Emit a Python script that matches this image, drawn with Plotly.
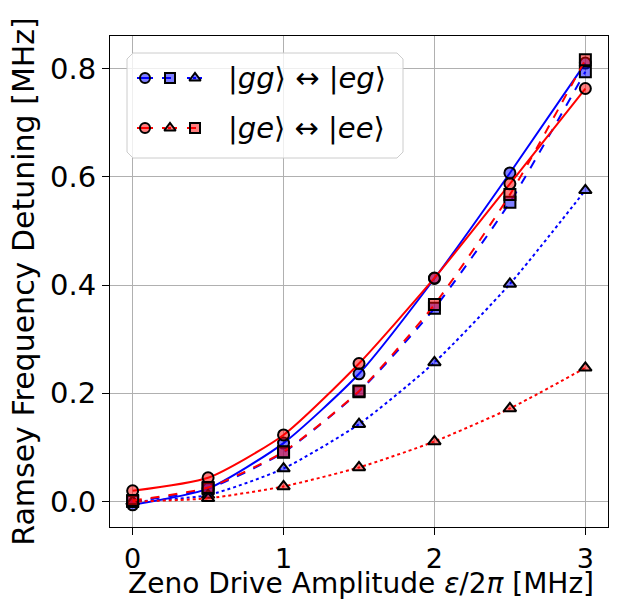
import plotly.graph_objects as go

x = [0, 0.5, 1, 1.5, 2, 2.5, 3]

# |gg> <-> |eg>  (blue)
blue_circle = [-0.006, 0.024, 0.108, 0.236, 0.412, 0.607, 0.810]
blue_square = [0.000, 0.024, 0.091, 0.203, 0.357, 0.553, 0.794]
blue_triangle = [0.000, 0.012, 0.061, 0.143, 0.257, 0.402, 0.575]
# |ge> <-> |ee>  (red)
red_circle = [0.020, 0.044, 0.123, 0.255, 0.413, 0.587, 0.763]
red_triangle = [0.000, 0.006, 0.028, 0.063, 0.111, 0.172, 0.247]
red_square = [0.002, 0.026, 0.092, 0.204, 0.364, 0.567, 0.816]

xticks = [0, 1, 2, 3]
yticks = [0.0, 0.2, 0.4, 0.6, 0.8]

BLUE = "#0000ff"
RED = "#ff0000"
BLUE_FACE = "rgba(0,0,255,0.5)"
RED_FACE = "rgba(255,0,0,0.5)"
FONT = "DejaVu Sans"

series = [
    (blue_circle, BLUE, BLUE_FACE, "circle", "solid"),
    (blue_square, BLUE, BLUE_FACE, "square", "dash"),
    (blue_triangle, BLUE, BLUE_FACE, "triangle-up", "dot"),
    (red_circle, RED, RED_FACE, "circle", "solid"),
    (red_triangle, RED, RED_FACE, "triangle-up", "dot"),
    (red_square, RED, RED_FACE, "square", "dash"),
]

fig = go.Figure()
for ys, col, face, sym, dash in series:
    fig.add_trace(go.Scatter(
        x=x, y=ys, mode="lines+markers",
        line=dict(color=col, width=2, dash=dash, shape="spline", smoothing=0.6),
        marker=dict(symbol=sym, size=11, color=face, line=dict(color="black", width=2)),
        showlegend=False, hoverinfo="skip",
    ))

# ---- custom legend (pixel coordinates on an overlay axis) ----
lx0, lx1, ly0, ly1, r = 127, 403, 53, 158, 6
bx = [lx0 + r, lx1 - r, lx1, lx1, lx1 - r, lx0 + r, lx0, lx0, lx0 + r]
by = [ly0, ly0, ly0 + r, ly1 - r, ly1, ly1, ly1 - r, ly0 + r, ly0]
fig.add_trace(go.Scatter(
    x=bx, y=by, mode="lines", fill="toself", fillcolor="rgba(255,255,255,0.8)",
    line=dict(color="#cccccc", width=1), xaxis="x2", yaxis="y2",
    showlegend=False, hoverinfo="skip"))

leg_rows = [
    (78, BLUE, BLUE_FACE, [("circle", "solid"), ("square", "dash"), ("triangle-up", "dot")],
     "|<i>gg</i>⟩ ↔ |<i>eg</i>⟩"),
    (128, RED, RED_FACE, [("circle", "solid"), ("triangle-up", "dot"), ("square", "dash")],
     "|<i>ge</i>⟩ ↔ |<i>ee</i>⟩"),
]
leg_x = [145, 170, 195]
for yrow, col, face, items, label in leg_rows:
    for xx, (sym, dash) in zip(leg_x, items):
        fig.add_trace(go.Scatter(
            x=[xx - 8, xx + 8], y=[yrow, yrow], mode="lines",
            line=dict(color=col, width=2, dash=dash), xaxis="x2", yaxis="y2",
            showlegend=False, hoverinfo="skip"))
        fig.add_trace(go.Scatter(
            x=[xx], y=[yrow], mode="markers", xaxis="x2", yaxis="y2",
            marker=dict(symbol=sym, size=10, color=face, line=dict(color="black", width=2)),
            showlegend=False, hoverinfo="skip"))
    fig.add_annotation(x=226, y=yrow, xref="x2", yref="y2", text=label, showarrow=False,
                       xanchor="left", yanchor="middle",
                       font=dict(family=FONT, size=29, color="black"))

# x-axis title placed as annotation just below the tick labels (paper coords)
fig.add_annotation(x=0.504, y=-0.1527, xref="paper", yref="paper",
                   text="Zeno Drive Amplitude <i>ε</i>/2<i>π</i> [MHz]", showarrow=False,
                   xanchor="center", yanchor="bottom",
                   font=dict(family=FONT, size=28, color="black"))

axis_common = dict(
    showline=True, linecolor="black", linewidth=1.2, mirror=True,
    ticks="outside", ticklen=7, tickwidth=1.2, tickcolor="black",
    showgrid=True, gridcolor="#b0b0b0", gridwidth=1, zeroline=False,
    automargin=False,
)
fig.update_layout(
    width=621, height=603,
    margin=dict(l=110, r=13, t=36, b=76),
    paper_bgcolor="white", plot_bgcolor="white",
    font=dict(family=FONT, color="black"),
    xaxis=dict(range=[-0.15, 3.15], tickvals=xticks, ticktext=[str(t) for t in xticks],
               tickfont=dict(family=FONT, size=27, color="black"),
               **axis_common),
    yaxis=dict(range=[-0.047, 0.860], tickvals=yticks,
               ticktext=["%.1f" % t for t in yticks],
               tickfont=dict(family=FONT, size=29, color="black"),
               title=dict(text="Ramsey Frequency Detuning [MHz]",
                          font=dict(family=FONT, size=30), standoff=6),
               **axis_common),
    xaxis2=dict(range=[110, 608], overlaying="x", visible=False, fixedrange=True),
    yaxis2=dict(range=[527, 36], overlaying="y", visible=False, fixedrange=True),
)

fig.write_html("out.html", post_script="document.body.style.margin='0';",
               config={"displayModeBar": False})
